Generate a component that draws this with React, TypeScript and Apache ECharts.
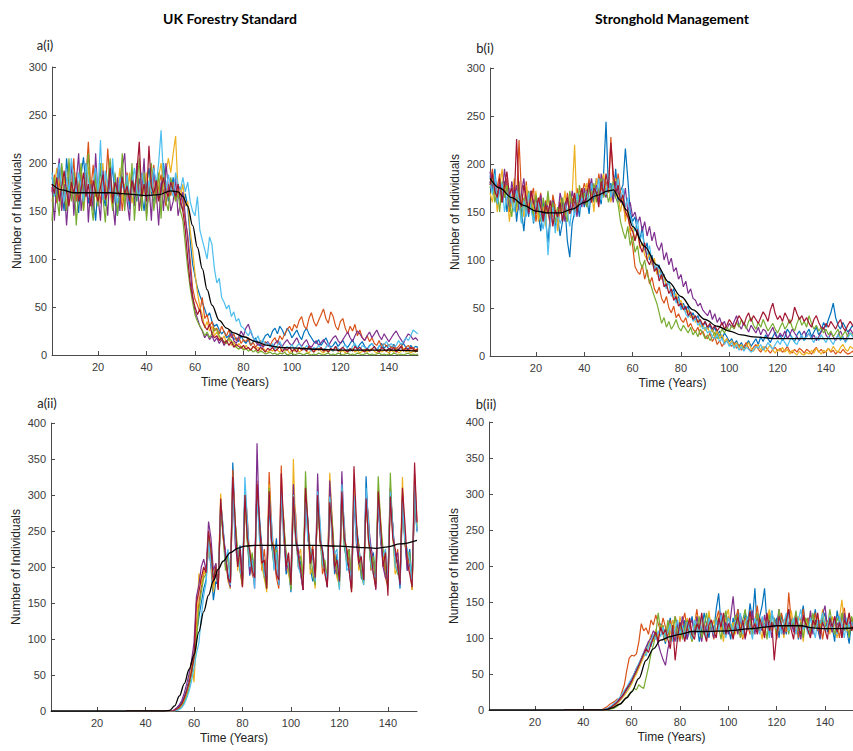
import React, { useEffect, useRef } from 'react';
import * as echarts from 'echarts';

// MATLAB default line colours, one per simulation run
const RUN_COLORS = ['#0072BD', '#D95319', '#EDB120', '#7E2F8E', '#77AC30', '#4DBEEE', '#A2142F'];

const YEAR_MIN = 1;
const YEAR_MAX = 152;
const X_TICKS = [20, 40, 60, 80, 100, 120, 140];
const Y_MAX_TOP = 300;
const Y_MAX_BOTTOM = 400;
const Y_STEP = 50;

const TITLES = ['UK Forestry Standard', 'Stronghold Management'];
const PANEL_LABELS = ['a(i)', 'b(i)', 'a(ii)', 'b(ii)'];
const X_NAME = 'Time (Years)';
const Y_NAME = 'Number of Individuals';

// ---------- a(i): UK Forestry Standard, years 1..152 ----------
const A1_START = 1;
const A1_BLUE = [
  185,172,160,195,168,150,205,178,162,190,
  170,148,188,206,175,158,182,165,140,176,
  192,168,155,181,170,198,160,145,172,186,
  165,178,152,190,172,160,184,168,150,176,
  195,170,158,182,163,175,200,178,160,170,
  185,166,172,160,150,168,155,120,95,82,
  70,62,55,48,40,44,35,30,32,26,
  22,25,18,20,24,16,18,14,20,15,
  12,16,10,14,18,12,9,15,20,22,
  18,25,28,22,30,26,20,28,24,18,
  22,26,20,16,24,28,22,18,14,12,
  16,10,14,18,12,8,10,14,9,12,
  15,10,8,12,16,10,7,11,14,9,
  6,10,12,8,5,9,12,7,10,6,
  8,11,7,5,9,12,8,6,10,7,
  9,8];
const A1_ORANGE = [
  170,188,158,175,196,165,150,182,170,205,
  160,176,192,168,185,222,172,198,165,180,
  158,185,170,215,176,160,188,166,178,150,
  175,190,162,180,168,196,172,158,185,170,
  165,180,198,160,175,188,170,155,178,166,
  180,160,172,175,158,140,125,100,70,58,
  52,45,60,38,42,30,35,25,28,22,
  30,24,20,26,18,22,15,19,12,16,
  14,18,10,13,8,12,15,9,14,11,
  10,15,18,12,20,16,22,26,30,25,
  32,28,36,40,30,27,38,44,35,30,
  36,42,48,38,33,45,40,30,26,35,
  38,28,22,30,25,32,20,26,18,15,
  20,14,18,12,10,15,8,12,9,11,
  7,10,6,9,12,5,8,10,6,8,
  5,7];
const A1_YELLOW = [
  160,178,195,170,152,185,168,200,175,158,
  190,165,178,150,172,196,160,182,170,155,
  175,200,162,180,168,152,185,170,195,160,
  178,165,190,158,172,182,150,175,168,190,
  160,180,172,158,185,200,175,190,205,190,
  210,228,170,165,178,155,160,130,110,85,
  65,50,42,28,35,25,30,20,24,18,
  15,20,12,17,10,14,8,12,9,6,
  10,7,5,9,6,8,4,7,5,3,
  6,4,8,5,3,7,4,6,2,5,
  4,7,3,5,8,4,2,6,3,5,
  7,4,2,5,3,6,4,8,5,3,
  5,2,6,4,7,3,5,2,4,6,
  3,5,7,4,2,6,3,5,4,2,
  5,3,6,2,4,7,3,5,2,4,
  3,5];
const A1_PURPLE = [
  175,140,182,205,150,178,135,170,200,145,
  180,210,150,172,200,138,178,150,210,165,
  140,192,170,145,200,160,135,185,150,195,
  210,160,140,188,155,200,150,170,205,145,
  178,140,195,170,135,180,150,200,175,150,
  160,185,145,158,170,145,120,90,62,45,
  38,30,25,18,22,16,20,14,18,12,
  16,10,14,18,22,15,12,18,25,20,
  28,32,24,18,14,10,12,8,11,14,
  10,8,12,15,11,9,13,16,12,10,
  14,18,12,9,13,16,10,8,12,15,
  10,13,16,12,9,14,18,20,15,12,
  16,20,24,18,14,20,25,22,18,15,
  20,24,18,22,26,20,16,22,18,14,
  18,22,25,20,16,12,18,22,20,16,
  18,15];
const A1_GREEN = [
  140,185,165,145,200,170,150,205,160,190,
  135,172,200,150,185,210,160,140,190,155,
  200,165,138,180,205,150,190,145,172,210,
  150,185,160,200,140,175,205,150,190,140,
  175,200,150,170,190,142,195,160,150,185,
  170,160,168,150,140,115,90,70,55,42,
  35,30,26,20,24,18,22,28,26,20,
  16,14,12,18,15,10,8,6,9,5,
  7,4,6,3,5,2,4,3,1,2,
  3,1,2,0,2,1,3,0,1,2,
  0,1,2,1,0,2,1,0,1,0,
  2,1,0,1,2,0,1,0,2,1,
  0,1,2,0,1,0,2,1,0,1,
  2,0,1,0,1,2,0,1,0,1,
  0,2,1,0,1,0,1,2,0,1,
  0,1];
const A1_LIGHTBLUE = [
  190,165,178,200,172,160,185,170,205,180,
  168,190,175,160,200,182,165,178,195,170,
  224,162,192,175,168,205,172,158,185,176,
  170,188,160,178,195,172,165,190,176,160,
  182,170,195,178,200,234,185,170,188,175,
  165,190,178,172,185,170,180,160,150,145,
  165,130,120,110,100,123,115,90,75,80,
  60,55,48,52,40,45,35,38,30,28,
  24,20,26,18,15,20,12,16,10,13,
  8,12,6,10,14,8,5,9,7,11,
  6,9,12,8,5,10,7,4,8,6,
  10,7,5,8,12,6,4,9,7,5,
  8,11,6,4,9,12,7,5,10,8,
  6,9,12,8,5,10,7,11,14,9,
  12,8,10,15,11,14,18,15,20,26,
  24,22];
const A1_CRIMSON = [
  178,168,185,160,175,192,170,155,180,168,
  185,160,172,190,165,178,155,182,170,160,
  175,188,162,170,195,158,180,172,165,185,
  168,176,160,182,170,190,222,165,178,160,
  218,175,168,182,160,172,185,170,165,180,
  172,165,178,160,150,130,100,75,60,50,
  42,48,35,30,26,32,22,18,20,15,
  18,12,15,10,14,8,11,9,7,10,
  6,8,5,9,7,4,8,6,3,7,
  5,8,4,6,9,3,7,5,8,4,
  6,3,8,5,7,4,9,6,3,7,
  5,8,4,6,3,7,5,9,4,6,
  8,5,3,7,4,9,6,8,5,3,
  7,4,6,9,5,3,8,6,4,7,
  5,8,3,6,9,4,7,5,8,6,
  4,6];
const MEAN_A1_T = [1,5,10,15,20,25,30,35,40,45,50,53,55,57,59,61,63,65,67,70,73,76,80,85,90,95,100,110,120,130,140,152];
const MEAN_A1_V = [178,172,169,169,169,169,168,167,166,167,171,170,165,155,135,112,90,68,52,36,28,23,19,14,10,8,7.5,6,5,5,5,4];

// ---------- b(i): Stronghold Management, years 1..152 ----------
const B1_START = 1;
const B1_BLUE = [
  188,172,195,165,178,160,182,150,170,158,
  175,140,165,152,130,160,145,172,138,155,
  148,130,160,142,118,150,165,135,145,125,
  140,155,120,103,138,150,162,145,170,155,
  165,148,175,160,185,170,158,190,244,175,
  180,165,195,160,172,178,216,185,150,140,
  145,130,120,135,110,118,100,105,92,88,
  95,80,85,72,78,65,70,58,62,50,
  55,48,52,40,45,38,42,35,30,36,
  28,32,25,30,22,26,18,24,20,15,
  18,12,16,10,14,8,12,16,10,14,
  18,12,20,15,22,18,14,20,25,18,
  22,16,20,28,24,18,15,22,26,20,
  16,24,28,20,25,30,22,26,35,30,
  38,45,55,40,32,28,35,30,25,28,
  32,26];
const B1_ORANGE = [
  180,195,168,176,190,160,172,185,150,165,
  178,160,225,170,155,182,148,165,175,140,
  158,170,145,162,150,135,168,155,140,150,
  162,145,170,155,165,150,175,160,168,180,
  170,185,160,178,165,190,175,168,182,170,
  228,180,165,190,170,160,145,150,130,115,
  93,88,85,95,80,90,75,82,70,65,
  72,60,55,62,50,45,52,40,44,38,
  35,40,30,34,28,25,30,22,26,20,
  18,24,15,20,12,16,10,14,18,12,
  10,14,8,12,6,10,14,8,5,9,
  12,7,4,8,10,6,3,7,9,5,
  8,4,6,10,5,3,7,4,8,6,
  3,7,5,2,6,9,4,7,3,5,
  8,4,6,2,5,3,7,4,2,3,
  5,3];
const B1_YELLOW = [
  170,160,182,150,175,195,165,178,140,160,
  185,150,170,162,145,178,155,168,150,172,
  140,162,155,135,168,150,145,158,130,165,
  150,172,145,160,168,220,150,175,160,168,
  180,160,172,150,185,165,178,190,170,182,
  160,175,185,168,150,165,140,155,128,135,
  120,130,112,118,105,100,108,95,102,85,
  90,80,84,72,76,68,60,65,55,58,
  50,45,48,40,42,35,38,30,34,26,
  30,24,28,20,26,18,22,15,18,12,
  16,10,14,8,12,6,10,14,8,5,
  9,12,6,10,4,8,12,6,3,7,
  5,9,4,7,2,6,3,1,5,2,
  1,4,2,6,3,8,5,2,6,4,
  8,5,10,6,4,9,12,7,5,10,
  8,6];
const B1_PURPLE = [
  192,175,185,160,178,168,195,172,155,182,
  165,178,152,170,185,160,148,172,158,165,
  150,168,142,160,155,138,162,150,145,170,
  158,140,165,150,172,160,145,168,155,175,
  160,172,185,165,178,160,190,172,165,180,
  175,160,182,170,165,158,175,150,160,145,
  150,138,145,130,140,125,135,120,129,115,
  110,118,100,108,95,102,88,92,80,85,
  72,78,65,70,60,58,52,55,48,45,
  42,48,38,44,35,40,32,36,28,34,
  30,36,42,32,28,35,30,25,32,28,
  24,30,22,28,26,20,25,30,22,18,
  24,20,26,18,22,28,24,20,16,22,
  26,20,24,18,22,16,20,25,30,22,
  18,24,20,16,22,26,20,15,22,28,
  24,20];
const B1_GREEN = [
  175,188,160,172,150,182,165,178,160,145,
  170,155,182,140,165,150,172,158,145,168,
  155,140,165,150,172,145,160,138,155,148,
  165,150,140,172,158,165,150,178,162,170,
  155,175,168,180,160,172,185,165,175,160,
  170,182,165,158,140,130,122,135,115,125,
  108,115,98,92,100,85,78,70,62,55,
  45,34,40,30,36,28,32,38,30,26,
  32,28,24,30,22,26,20,28,24,18,
  22,16,20,25,18,22,28,24,30,26,
  32,28,35,30,38,34,28,36,40,32,
  28,35,30,38,32,26,30,34,28,24,
  30,35,28,32,38,30,26,34,40,32,
  36,30,42,34,28,32,26,30,24,28,
  22,26,20,24,28,18,22,26,20,24,
  22,18];
const B1_LIGHTBLUE = [
  182,168,190,158,172,180,150,165,175,160,
  150,172,160,138,162,145,170,152,140,158,
  160,145,132,150,105,140,155,128,150,138,
  145,160,150,135,158,145,170,152,165,160,
  172,158,180,165,170,185,162,178,168,190,
  165,178,170,185,160,175,155,165,145,138,
  130,142,120,128,112,105,115,98,90,96,
  82,88,75,70,78,62,66,55,60,48,
  52,44,40,46,36,40,32,35,28,30,
  24,26,20,18,22,15,18,12,16,10,
  14,8,12,6,10,5,9,7,4,6,
  10,8,12,6,9,14,10,7,12,16,
  12,18,14,10,16,20,14,12,18,22,
  16,20,24,18,14,20,16,22,18,14,
  20,16,12,18,22,16,20,14,18,24,
  20,18];
const B1_CRIMSON = [
  178,190,172,165,185,160,178,192,168,175,
  160,226,170,155,178,165,150,172,160,148,
  165,155,140,158,148,162,135,152,145,160,
  140,158,165,148,155,170,150,162,175,158,
  168,180,160,175,170,155,182,168,190,175,
  222,190,170,178,160,168,150,145,135,130,
  120,132,115,108,118,100,95,102,88,92,
  78,85,72,75,65,70,58,62,52,55,
  48,52,42,46,38,42,35,38,32,36,
  30,34,28,32,26,30,35,28,32,38,
  34,30,36,42,38,32,40,45,36,42,
  38,34,40,46,42,36,48,55,44,38,
  42,36,45,40,34,38,51,44,38,42,
  36,40,34,30,38,42,35,30,28,34,
  30,36,32,28,34,38,30,26,32,36,
  32,28];
const MEAN_B1_T = [1,5,10,15,20,25,30,35,40,45,50,52,55,57.5,60,65,70,75,80,85,90,95,100,105,110,120,130,140,152];
const MEAN_B1_V = [185,175,165,157,151,149,149,153,160,167,172,173,162,152,135,114,95,77,62,48,38,31,26,22,20,18,18,18,18];

// ---------- a(ii): zero from year 32, values listed from year 51 ----------
const A2_ZERO_FROM = 32;
const A2_START = 51;
const A2_BLUE = [
  0,1,3,7,12,20,30,45,60,80,105,130,150,170,182,
  230,200,154,180,175,
  280,250,215,190,170,
  345,262,210,230,182,
  300,238,188,215,195,
  310,270,225,185,175,
  290,230,205,240,176,
  305,255,190,200,165,
  295,232,220,205,185,
  300,265,198,180,190,
  288,240,225,200,172,
  296,250,190,218,182,
  305,228,210,195,170,
  290,258,230,185,180,
  326,245,200,220,176,
  300,235,215,190,185,
  295,260,205,210,170,
  285,242,195,225,178,
  300,250];
const A2_ORANGE = [
  0,0,2,5,10,16,26,40,58,78,120,150,172,190,195,
  240,215,175,205,170,
  290,255,200,220,185,
  335,240,225,195,172,
  310,268,210,190,180,
  320,245,195,225,185,
  332,260,215,185,170,
  341,235,220,210,188,
  300,272,200,195,168,
  310,240,215,230,182,
  295,258,190,205,175,
  305,230,222,190,185,
  290,262,205,215,170,
  318,245,230,195,180,
  300,270,195,210,188,
  295,238,220,185,172,
  310,255,200,225,180,
  298,232,215,200,168,
  330,262];
const A2_YELLOW = [
  0,1,2,4,8,14,24,40,70,40,100,191,175,195,188,
  225,210,165,195,185,
  302,240,215,180,170,
  320,265,195,220,180,
  290,235,225,195,188,
  305,258,200,185,165,
  315,240,230,210,182,
  300,270,205,190,175,
  350,245,215,225,180,
  292,255,190,200,170,
  305,232,220,195,188,
  331,268,200,185,175,
  298,240,225,215,165,
  310,252,195,205,185,
  295,236,218,190,178,
  308,265,205,225,172,
  300,245,190,200,185,
  325,230,222,210,168,
  310,258];
const A2_PURPLE = [
  0,2,5,9,15,25,38,52,70,95,159,175,200,211,195,
  263,240,195,205,175,
  285,250,220,185,172,
  310,232,205,225,185,
  295,262,190,210,170,
  372,255,230,195,182,
  300,236,210,220,175,
  290,265,195,205,185,
  315,240,225,190,168,
  300,258,205,215,180,
  330,235,220,200,172,
  320,262,198,190,185,
  333,245,215,225,170,
  295,232,205,195,182,
  305,260,228,210,168,
  290,240,200,185,185,
  310,255,215,220,175,
  300,238,195,205,180,
  290,250];
const A2_GREEN = [
  0,0,1,3,6,12,20,32,50,72,100,140,165,185,190,
  245,220,185,200,172,
  275,245,195,215,180,
  300,262,225,195,175,
  305,235,200,220,188,
  295,258,215,190,170,
  310,240,198,225,182,
  300,262,220,200,168,
  290,238,205,215,185,
  333,255,225,190,175,
  300,240,200,210,182,
  295,265,215,195,170,
  310,232,205,225,185,
  300,258,220,190,175,
  292,240,198,215,180,
  326,262,225,200,170,
  331,245,205,190,185,
  295,236,218,220,172,
  305,255];
const A2_LIGHTBLUE = [
  0,0,1,2,5,10,18,28,42,60,80,94,130,160,178,
  235,205,190,185,178,
  290,258,205,225,175,
  315,240,220,195,185,
  325,265,200,210,170,
  300,238,225,190,182,
  295,262,195,220,175,
  310,240,215,205,185,
  300,255,200,190,172,
  290,236,225,215,180,
  305,265,205,195,185,
  298,240,218,225,168,
  315,258,195,200,182,
  300,235,222,210,175,
  310,262,205,190,185,
  295,240,215,225,172,
  305,255,200,195,180,
  290,236,225,210,175,
  315,248];
const A2_CRIMSON = [
  0,1,3,6,10,18,28,40,55,75,150,165,185,200,192,
  250,225,180,200,168,
  295,245,215,185,178,
  325,262,200,225,172,
  300,240,222,195,185,
  315,265,205,210,170,
  305,236,225,190,182,
  330,258,200,220,175,
  298,240,215,195,168,
  310,262,205,225,185,
  300,238,222,190,172,
  290,255,200,210,180,
  305,240,225,195,165,
  340,265,205,215,182,
  295,236,218,190,170,
  305,258,200,220,160,
  298,240,225,200,178,
  310,262,205,190,172,
  345,262];
const MEAN_A2_T = [1,48,50,52,54,56,58,60,62,64,66,68,70,72,75,78,81,85,90,100,110,120,130,135,140,145,152];
const MEAN_A2_V = [0,0,1,7,21,38,58,78,110,138,161,181,197,208,220,226,229,230,230,230,230,229,227,226,228,232,237];

// ---------- b(ii): zero from year 32, values listed from year 43 ----------
const B2_ZERO_FROM = 32;
const B2_START = 43;
const B2_BLUE = [
  0,0,0,0,0,0,1,2,3,5,
  7,10,13,18,22,28,32,38,45,52,
  60,68,75,82,95,88,102,110,98,120,
  105,92,115,128,100,112,95,118,108,125,
  98,115,130,105,120,95,112,135,118,100,
  125,110,140,162,118,105,132,115,98,128,
  112,140,120,105,135,118,148,125,169,110,
  130,145,169,120,105,138,115,128,100,132,
  118,105,140,122,112,135,98,125,145,115,
  128,105,120,140,112,98,125,135,108,130,
  115,95,138,120,105,128,112,92,125,118];
const B2_ORANGE = [
  0,0,0,0,0,1,3,5,8,10,
  12,15,15,25,35,55,72,76,75,78,
  95,120,110,114,105,125,118,132,120,110,
  128,115,102,125,110,130,118,95,122,135,
  110,125,100,118,140,112,128,105,120,130,
  115,98,125,138,110,120,105,130,118,100,
  125,140,112,98,128,118,105,132,120,145,
  112,128,105,122,138,110,125,98,120,135,
  118,108,163,125,112,130,100,122,140,115,
  128,105,118,135,110,125,98,120,112,130,
  108,125,118,100,130,142,115,105,128,120];
const B2_YELLOW = [
  0,0,0,0,0,0,0,1,2,4,
  6,9,12,16,20,25,30,36,44,50,
  58,66,74,80,90,105,95,112,100,118,
  108,95,120,105,125,112,98,130,115,105,
  128,110,95,120,132,108,125,115,100,138,
  112,125,105,130,118,95,128,140,110,122,
  105,130,118,100,125,112,138,105,120,132,
  115,98,128,120,140,110,125,105,132,118,
  100,125,112,138,118,105,130,122,95,128,
  115,135,108,122,130,110,140,118,125,105,
  130,118,100,128,153,120,110,135,115,108];
const B2_PURPLE = [
  0,0,0,0,0,0,1,2,4,6,
  8,11,14,18,24,30,36,42,50,58,
  64,72,80,88,95,100,110,105,92,80,
  70,62,85,98,110,95,120,105,130,112,
  98,118,125,105,130,112,95,120,108,128,
  115,100,125,118,135,110,122,105,130,158,
  118,105,132,120,98,125,112,138,105,128,
  120,110,132,115,125,100,128,118,140,112,
  105,130,118,125,108,135,115,98,128,120,
  112,138,105,125,118,100,132,145,115,122,
  108,130,118,125,100,135,112,120,128,110];
const B2_GREEN = [
  0,0,0,0,0,0,0,0,1,2,
  3,5,8,10,14,18,22,26,30,28,
  35,32,30,45,60,78,90,105,135,110,
  118,100,125,95,112,130,105,120,98,115,
  125,108,95,120,112,130,100,118,135,110,
  122,105,128,115,98,125,138,110,120,105,
  132,118,100,125,140,112,128,105,118,135,
  110,125,120,98,132,115,128,105,140,118,
  112,130,105,125,118,138,110,122,100,128,
  120,108,135,115,125,105,130,118,112,140,
  118,105,128,120,135,110,122,100,130,115];
const B2_LIGHTBLUE = [
  0,0,0,0,0,0,1,2,4,7,
  10,13,17,22,27,32,38,44,50,58,
  65,72,80,75,88,95,105,98,110,102,
  115,100,108,120,95,112,125,105,118,100,
  122,110,98,125,115,105,130,112,100,128,
  118,105,125,110,132,115,100,128,120,108,
  125,112,135,105,120,130,115,98,128,118,
  105,130,115,125,100,138,120,112,128,105,
  122,135,110,118,128,105,125,140,112,118,
  105,128,115,100,125,120,135,110,118,130,
  112,125,105,130,118,100,128,115,122,105];
const B2_CRIMSON = [
  0,0,0,0,0,0,0,1,3,5,
  8,11,15,19,24,30,35,40,48,55,
  62,70,78,85,80,92,100,108,95,115,
  105,112,98,85,118,69,100,122,110,95,
  115,128,105,98,120,112,135,108,95,118,
  125,110,100,128,115,135,105,120,112,98,
  118,130,108,125,100,115,138,112,120,105,
  128,115,100,135,110,122,69,105,130,118,
  108,125,140,112,98,128,115,105,132,120,
  110,100,125,118,135,105,122,112,98,128,
  115,130,108,122,100,125,118,135,110,120];
const MEAN_B2_T = [1,48,50,52,55,58,60,63,66,69,72,76,80,85,90,100,110,115,120,125,130,135,140,145,152];
const MEAN_B2_V = [0,0,1,3,8,17,25,44,69,85,97,102,105,109,109,110,113,115,117,117,117,114,113,113,114];

const PANELS = [
  { runs: [A1_BLUE, A1_ORANGE, A1_YELLOW, A1_PURPLE, A1_GREEN, A1_LIGHTBLUE, A1_CRIMSON], start: A1_START, zeroFrom: A1_START, meanT: MEAN_A1_T, meanV: MEAN_A1_V, yMax: Y_MAX_TOP, meanOnTop: true },
  { runs: [B1_BLUE, B1_ORANGE, B1_YELLOW, B1_PURPLE, B1_GREEN, B1_LIGHTBLUE, B1_CRIMSON], start: B1_START, zeroFrom: B1_START, meanT: MEAN_B1_T, meanV: MEAN_B1_V, yMax: Y_MAX_TOP, meanOnTop: true },
  { runs: [A2_BLUE, A2_ORANGE, A2_YELLOW, A2_PURPLE, A2_GREEN, A2_LIGHTBLUE, A2_CRIMSON], start: A2_START, zeroFrom: A2_ZERO_FROM, meanT: MEAN_A2_T, meanV: MEAN_A2_V, yMax: Y_MAX_BOTTOM, meanOnTop: false },
  { runs: [B2_BLUE, B2_ORANGE, B2_YELLOW, B2_PURPLE, B2_GREEN, B2_LIGHTBLUE, B2_CRIMSON], start: B2_START, zeroFrom: B2_ZERO_FROM, meanT: MEAN_B2_T, meanV: MEAN_B2_V, yMax: Y_MAX_BOTTOM, meanOnTop: false },
];

const GRIDS = [
  { left: 52, top: 67, width: 366, height: 288 },
  { left: 490, top: 68, width: 365, height: 288 },
  { left: 51, top: 423, width: 366, height: 288 },
  { left: 489, top: 422, width: 365, height: 288 },
];

const AXIS_COLOR = '#4a4a4a';
const LABEL_COLOR = '#3a3a3a';
const SANS = '"Liberation Sans", Arial, sans-serif';
const HEAD = 'Lato, "Open Sans", sans-serif';

function runPairs(values: number[], start: number, zeroFrom: number) {
  const out: number[][] = [];
  for (let t = zeroFrom; t < start; t++) out.push([t, 0]);
  values.forEach((v, i) => out.push([start + i, v]));
  return out;
}

function buildOption() {
  const xAxis: any[] = [];
  const yAxis: any[] = [];
  const series: any[] = [];
  PANELS.forEach((p, gi) => {
    xAxis.push({
      type: 'value', gridIndex: gi, min: YEAR_MIN, max: YEAR_MAX,
      axisLine: { show: true, onZero: false, lineStyle: { color: AXIS_COLOR, width: 1 } },
      axisTick: { show: true, inside: true, length: 4, customValues: X_TICKS, lineStyle: { color: AXIS_COLOR } },
      axisLabel: { customValues: X_TICKS, color: LABEL_COLOR, fontSize: 11, fontFamily: SANS, margin: 6 },
      splitLine: { show: false },
      name: X_NAME, nameLocation: 'middle', nameGap: 21,
      nameTextStyle: { fontSize: 12, color: '#222', fontFamily: SANS },
    });
    yAxis.push({
      type: 'value', gridIndex: gi, min: 0, max: p.yMax, interval: Y_STEP,
      axisLine: { show: true, lineStyle: { color: AXIS_COLOR, width: 1 } },
      axisTick: { show: true, inside: true, length: 4, lineStyle: { color: AXIS_COLOR } },
      axisLabel: { color: LABEL_COLOR, fontSize: 11, fontFamily: SANS, margin: 5 },
      splitLine: { show: false },
      name: Y_NAME, nameLocation: 'middle', nameGap: 29, nameRotate: 90,
      nameTextStyle: { fontSize: 12, color: '#222', fontFamily: SANS },
    });
    const meanSeries = {
      type: 'line', xAxisIndex: gi, yAxisIndex: gi,
      data: p.meanT.map((t, i) => [t, p.meanV[i]]),
      showSymbol: false, symbol: 'none', smooth: 0.35, smoothMonotone: 'x',
      lineStyle: { color: '#000', width: 1.3 }, silent: true, z: 3,
    };
    if (!p.meanOnTop) series.push(meanSeries);
    p.runs.forEach((vals, ri) => {
      series.push({
        type: 'line', xAxisIndex: gi, yAxisIndex: gi,
        data: runPairs(vals, p.start, p.zeroFrom),
        showSymbol: false, symbol: 'none',
        lineStyle: { color: RUN_COLORS[ri], width: 1.2 }, silent: true, z: 2,
      });
    });
    if (p.meanOnTop) series.push({ ...meanSeries, z: 4 });
  });

  const graphic: any[] = [
    { type: 'text', x: 230, y: 18, style: { text: TITLES[0], fontSize: 14, fontWeight: 'bold', fontFamily: HEAD, fill: '#000', align: 'center', verticalAlign: 'middle' } },
    { type: 'text', x: 672, y: 18, style: { text: TITLES[1], fontSize: 14, fontWeight: 'bold', fontFamily: HEAD, fill: '#000', align: 'center', verticalAlign: 'middle' } },
    { type: 'text', x: 45, y: 45, style: { text: PANEL_LABELS[0], fontSize: 13, fontFamily: HEAD, fill: '#222', align: 'center', verticalAlign: 'middle' } },
    { type: 'text', x: 485, y: 48, style: { text: PANEL_LABELS[1], fontSize: 13, fontFamily: HEAD, fill: '#222', align: 'center', verticalAlign: 'middle' } },
    { type: 'text', x: 47, y: 403, style: { text: PANEL_LABELS[2], fontSize: 13, fontFamily: HEAD, fill: '#222', align: 'center', verticalAlign: 'middle' } },
    { type: 'text', x: 486, y: 404, style: { text: PANEL_LABELS[3], fontSize: 13, fontFamily: HEAD, fill: '#222', align: 'center', verticalAlign: 'middle' } },
  ];

  return {
    animation: false,
    backgroundColor: '#ffffff',
    grid: GRIDS.map((g) => ({ ...g, containLabel: false, outerBoundsMode: 'none' })),
    xAxis, yAxis, series, graphic,
  };
}

export default function App() {
  const ref = useRef<HTMLDivElement>(null);
  useEffect(() => {
    if (!ref.current) return;
    const chart = echarts.init(ref.current, undefined, { renderer: 'svg' });
    chart.setOption(buildOption() as any);
    return () => chart.dispose();
  }, []);
  return (
    <div style={{ position: 'absolute', left: 0, top: 0, width: 853, height: 751, background: '#fff', overflow: 'hidden' }}>
      <div ref={ref} style={{ width: 853, height: 751 }} />
    </div>
  );
}
